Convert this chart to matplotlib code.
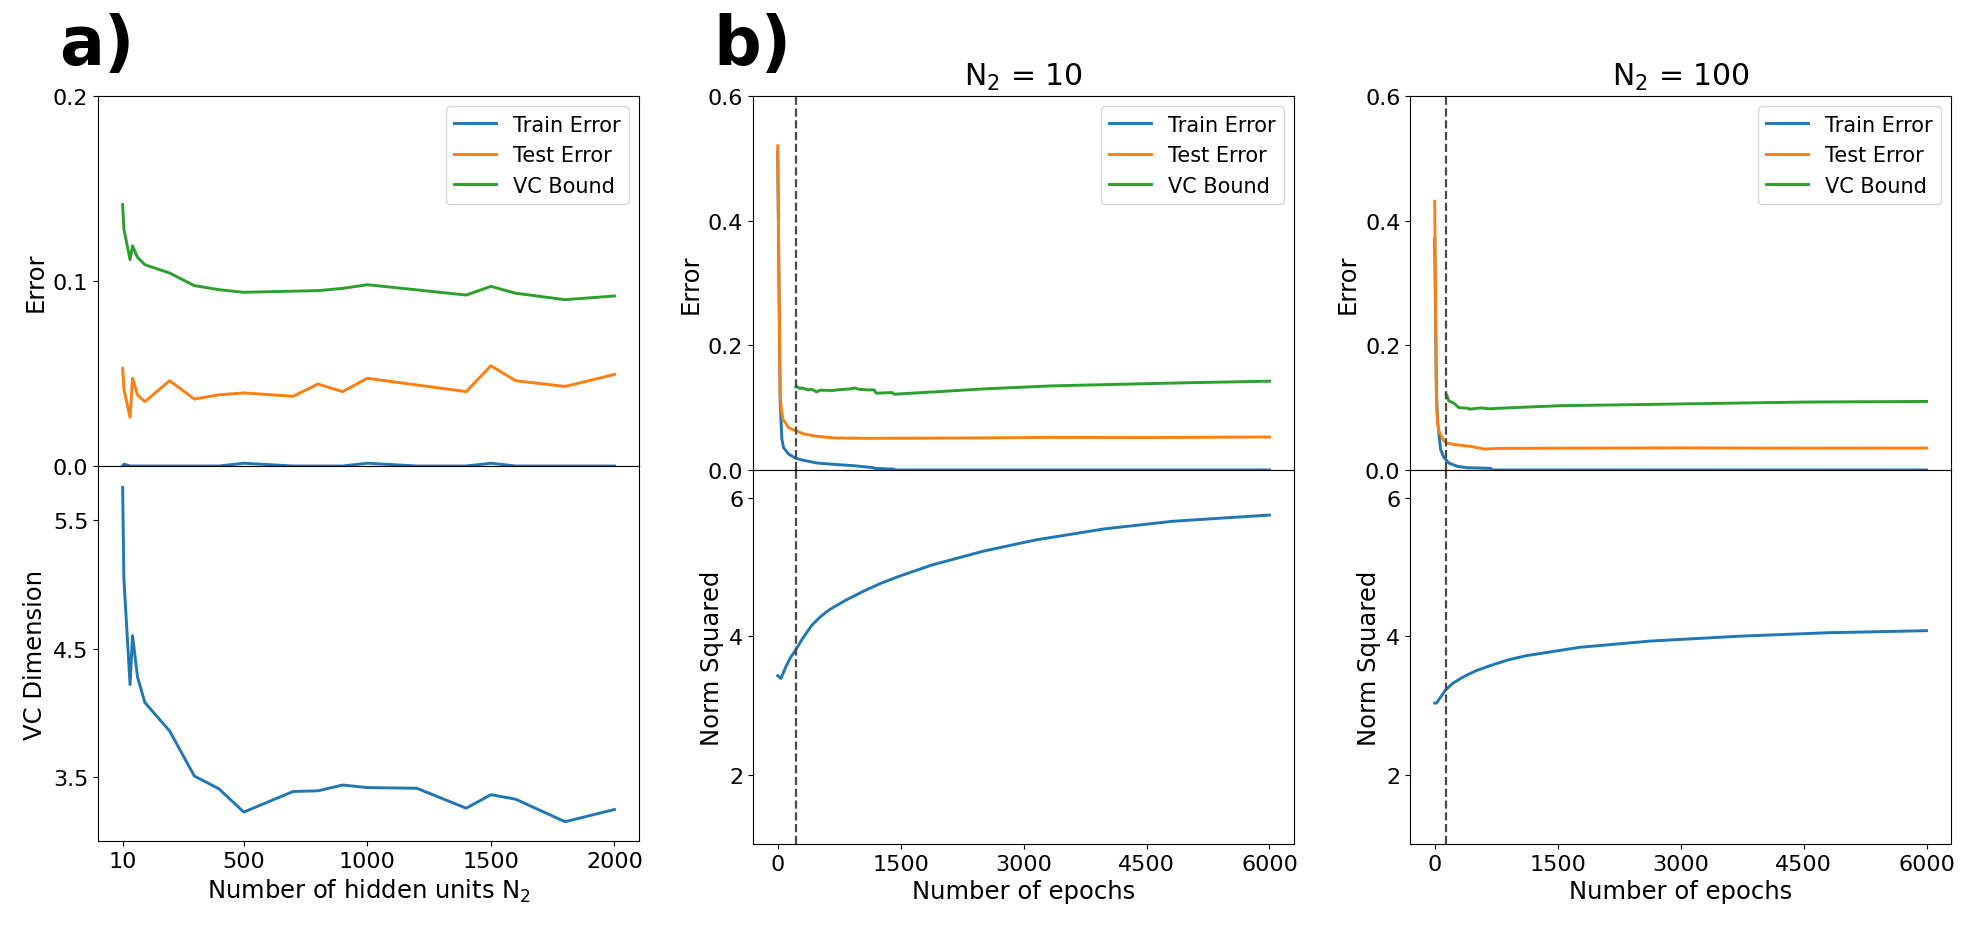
import matplotlib.pyplot as plt

# ---- panel a: sweep over the number of hidden units ----
n_hidden = [10, 15, 40, 50, 70, 100, 200, 300, 400, 500, 700, 800, 900, 1000,
            1200, 1400, 1500, 1600, 1800, 2000]
train_err_a = [0.0, 0.001, 0.0, 0.0, 0.0, 0.0, 0.0, 0.0, 0.0, 0.0015, 0.0, 0.0, 0.0,
               0.0015, 0.0, 0.0, 0.0015, 0.0, 0.0, 0.0]
test_err_a = [0.0528, 0.0416, 0.0263, 0.0474, 0.0384, 0.0348, 0.0461, 0.0362, 0.0385,
              0.0395, 0.0377, 0.0443, 0.0402, 0.0474, 0.0438, 0.0402, 0.0542, 0.0461,
              0.0430, 0.0495]
vc_bound_a = [0.1413, 0.128, 0.1115, 0.119, 0.1128, 0.1088, 0.1043, 0.0975, 0.0953,
              0.0939, 0.0945, 0.0948, 0.096, 0.098, 0.0952, 0.0924, 0.0971, 0.0934,
              0.0899, 0.0919]
vc_dim_a = [5.75, 5.04, 4.22, 4.60, 4.28, 4.08, 3.86, 3.51, 3.41, 3.23, 3.39, 3.395,
            3.44, 3.42, 3.415, 3.26, 3.365, 3.33, 3.155, 3.25]

# ---- panel b: training curves, N2 = 10 ----
ep_train_10 = [0, 30, 51, 71, 132, 222, 316, 479, 682, 926, 1171, 1180, 1415, 1425, 6000]
train_10 = [0.51, 0.11, 0.05, 0.036, 0.0256, 0.0187, 0.0155, 0.0112, 0.0091, 0.0069,
            0.0037, 0.0027, 0.0015, 0.0, 0.0]
ep_test_10 = [0, 30, 45, 63, 132, 222, 316, 479, 682, 1090, 1500, 2500, 3300, 4500, 6000]
test_10 = [0.52, 0.12, 0.095, 0.082, 0.068, 0.063, 0.058, 0.054, 0.0515, 0.0507, 0.051,
           0.0515, 0.0523, 0.052, 0.053]
ep_vc_10 = [222, 240, 271, 292, 373, 414, 475, 516, 679, 720, 883, 944, 985, 1087, 1177,
            1201, 1393, 1422, 2000, 2500, 3329, 4000, 5000, 6000]
vc_10 = [0.1333, 0.1335, 0.1307, 0.1317, 0.1285, 0.1296, 0.1253, 0.128, 0.1275, 0.1285,
         0.1301, 0.1317, 0.1296, 0.1285, 0.1285, 0.1232, 0.1243, 0.1216, 0.126, 0.130,
         0.1349, 0.137, 0.140, 0.1425]
ep_norm_10 = [0, 40, 100, 150, 208, 300, 417, 520, 627, 830, 1047, 1250, 1467, 1886, 2516,
              3146, 3985, 4824, 6000]
norm_10 = [3.43, 3.39, 3.56, 3.68, 3.78, 3.96, 4.16, 4.28, 4.38, 4.52, 4.65, 4.76, 4.86,
           5.03, 5.23, 5.39, 5.55, 5.66, 5.75]
stop_10 = 225

# ---- panel b: training curves, N2 = 100 ----
ep_train_100 = [0, 20, 35, 71, 111, 172, 275, 397, 682, 700, 6000]
train_100 = [0.37, 0.13, 0.08, 0.0336, 0.0203, 0.0112, 0.0059, 0.0037, 0.0027, 0.0, 0.0]
ep_test_100 = [0, 12, 22, 35, 50, 111, 153, 234, 356, 438, 601, 804, 1538, 3000, 4500, 6000]
test_100 = [0.431, 0.25, 0.11, 0.075, 0.063, 0.047, 0.043, 0.041, 0.039, 0.038, 0.0336,
            0.0347, 0.035, 0.0355, 0.035, 0.0352]
ep_vc_100 = [140, 150, 172, 234, 270, 295, 397, 430, 560, 682, 720, 804, 1538, 2500, 3500,
             4500, 6000]
vc_100 = [0.1216, 0.119, 0.111, 0.1072, 0.103, 0.100, 0.0992, 0.0976, 0.0997, 0.098,
          0.0985, 0.0992, 0.1032, 0.105, 0.107, 0.109, 0.110]
ep_norm_100 = [0, 22, 60, 130, 220, 344, 500, 689, 900, 1121, 1768, 2630, 3707, 4785, 6000]
norm_100 = [3.035, 3.035, 3.10, 3.22, 3.32, 3.41, 3.50, 3.58, 3.66, 3.72, 3.84, 3.93,
            4.00, 4.05, 4.08]
stop_100 = 140

labels = ['Train Error', 'Test Error', 'VC Bound']
lw = 2.1
tick_fs = 16
label_fs = 17.5

fig = plt.figure(figsize=(19.73, 9.29), dpi=100)

W = 0.2742
# panel a
ax_a1 = fig.add_axes([0.0497, 0.4973, W, 0.8956 - 0.4973])
ax_a2 = fig.add_axes([0.0497, 0.0936, W, 0.4973 - 0.0936], sharex=ax_a1)

ax_a1.plot(n_hidden, train_err_a, color='C0', lw=lw, label=labels[0])
ax_a1.plot(n_hidden, test_err_a, color='C1', lw=lw, label=labels[1])
ax_a1.plot(n_hidden, vc_bound_a, color='C2', lw=lw, label=labels[2])
ax_a1.set_ylim(0, 0.2)
ax_a1.set_yticks([0.0, 0.1, 0.2])
ax_a1.set_ylabel('Error', fontsize=label_fs)
ax_a1.legend(loc='upper right', fontsize=15)
ax_a1.tick_params(axis='x', bottom=False, labelbottom=False)

ax_a2.plot(n_hidden, vc_dim_a, color='C0', lw=lw)
ax_a2.set_ylim(3.005, 5.917)
ax_a2.set_yticks([3.5, 4.5, 5.5])
ax_a2.set_xticks([10, 500, 1000, 1500, 2000])
ax_a2.set_ylabel('VC Dimension', fontsize=label_fs)
ax_a2.set_xlabel('Number of hidden units N$_2$', fontsize=label_fs)

for ax in (ax_a1, ax_a2):
    ax.tick_params(labelsize=tick_fs)

# panel b
runs = [
    (0.3817, 'N$_2$ = 10', ep_train_10, train_10, ep_test_10, test_10, ep_vc_10, vc_10,
     ep_norm_10, norm_10, stop_10),
    (0.7147, 'N$_2$ = 100', ep_train_100, train_100, ep_test_100, test_100, ep_vc_100,
     vc_100, ep_norm_100, norm_100, stop_100),
]
for (left, title, ept, tr, eps, te, epv, vc, epn, nm, stop) in runs:
    ax1 = fig.add_axes([left, 0.4930, W, 0.8956 - 0.4930])
    ax2 = fig.add_axes([left, 0.0904, W, 0.4930 - 0.0904], sharex=ax1)

    ax1.plot(ept, tr, color='C0', lw=lw, label=labels[0])
    ax1.plot(eps, te, color='C1', lw=lw, label=labels[1])
    ax1.plot(epv, vc, color='C2', lw=lw, label=labels[2])
    ax1.axvline(stop, color='#4a4a4a', ls='--', lw=1.6)
    ax1.set_ylim(0, 0.6)
    ax1.set_yticks([0.0, 0.2, 0.4, 0.6])
    ax1.set_ylabel('Error', fontsize=label_fs)
    ax1.set_title(title, fontsize=21.5, pad=8)
    ax1.legend(loc='upper right', fontsize=15)
    ax1.tick_params(axis='x', bottom=False, labelbottom=False)

    ax2.plot(epn, nm, color='C0', lw=lw)
    ax2.axvline(stop, color='#4a4a4a', ls='--', lw=1.6)
    ax2.set_ylim(1.0, 6.4)
    ax2.set_yticks([2, 4, 6])
    ax2.set_xlim(-300, 6300)
    ax2.set_xticks([0, 1500, 3000, 4500, 6000])
    ax2.set_ylabel('Norm Squared', fontsize=label_fs)
    ax2.set_xlabel('Number of epochs', fontsize=label_fs)

    for ax in (ax1, ax2):
        ax.tick_params(labelsize=tick_fs)

fig.text(0.0299, 0.930, 'a)', fontsize=48, fontweight='bold', va='baseline')
fig.text(0.3614, 0.930, 'b)', fontsize=48, fontweight='bold', va='baseline')

fig.savefig('out.png', dpi=100)
